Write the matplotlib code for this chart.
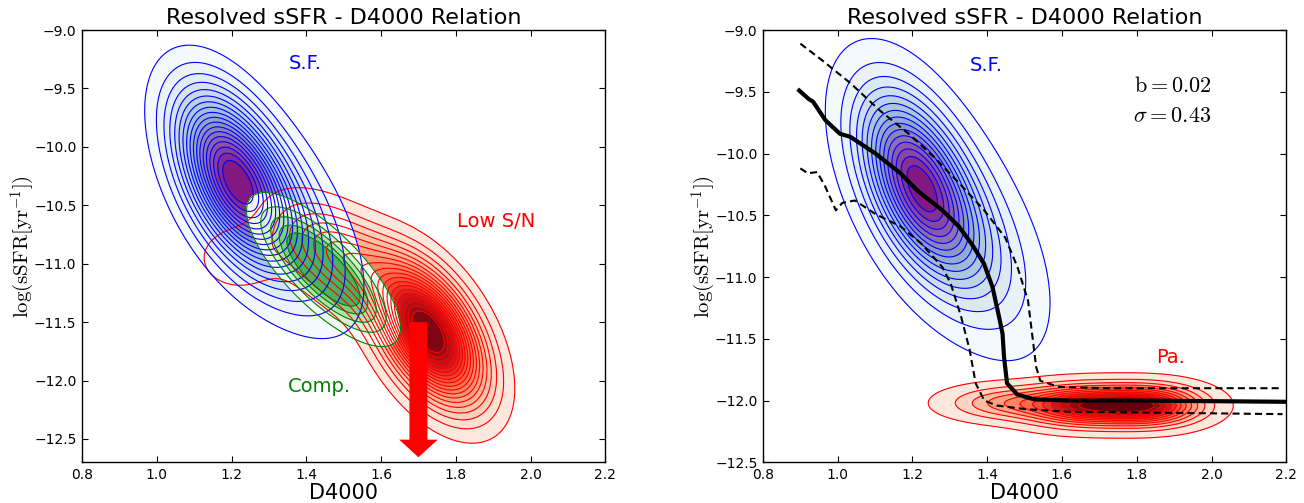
import numpy as np
import matplotlib
matplotlib.use('Agg')
import matplotlib.pyplot as plt

# density components: (amplitude, x0, y0, sigma_x, sigma_y, rho)
sf_left = [(1.00, 1.20, -10.25, 0.095, 0.46, -0.50),
           (0.45, 1.30, -10.55, 0.130, 0.55, -0.60)]
lowsn_left = [(1.00, 1.73, -11.60, 0.090, 0.37, -0.50),
              (0.30, 1.50, -10.95, 0.110, 0.30, -0.55),
              (0.08, 1.22, -10.95, 0.080, 0.20, 0.00)]
comp_left = [(1.00, 1.446, -11.05, 0.100, 0.32, -0.76)]

sf_right = [(1.00, 1.21, -10.23, 0.095, 0.46, -0.50),
            (0.45, 1.30, -10.53, 0.130, 0.55, -0.60)]
pa_right = [(1.00, 1.66, -12.04, 0.100, 0.100, 0.00),
            (1.00, 1.83, -12.04, 0.090, 0.100, 0.00),
            (0.35, 1.45, -12.02, 0.100, 0.085, 0.00)]

# median relation and 1-sigma envelope
med_x = [0.897, 0.923, 0.934, 0.967, 1.006, 1.034, 1.101, 1.168, 1.213, 1.280,
         1.324, 1.358, 1.391, 1.414, 1.430, 1.441, 1.445, 1.453, 1.480, 1.525,
         1.614, 1.800, 2.000, 2.200]
med_y = [-9.49, -9.56, -9.58, -9.73, -9.84, -9.865, -10.00, -10.16, -10.30, -10.46,
         -10.59, -10.73, -10.89, -11.08, -11.30, -11.46, -11.65, -11.86, -11.95, -11.99,
         -12.00, -12.00, -12.005, -12.01]
up_x = [0.900, 0.956, 1.034, 1.112, 1.190, 1.258, 1.325, 1.392, 1.448, 1.481,
        1.509, 1.520, 1.531, 1.542, 1.592, 1.727, 2.180]
up_y = [-9.11, -9.24, -9.43, -9.65, -9.84, -10.03, -10.24, -10.46, -10.68, -10.92,
        -11.19, -11.46, -11.73, -11.84, -11.89, -11.90, -11.90]
lo_x = [0.900, 0.920, 0.945, 0.967, 0.995, 1.012, 1.046, 1.101, 1.168, 1.224,
        1.280, 1.302, 1.330, 1.353, 1.369, 1.392, 1.425, 1.503, 1.615, 2.190]
lo_y = [-10.12, -10.16, -10.15, -10.27, -10.46, -10.40, -10.38, -10.49, -10.59, -10.73,
        -10.92, -11.05, -11.32, -11.59, -11.86, -12.00, -12.04, -12.07, -12.09, -12.11]

fit_b = 0.02
fit_sigma = 0.43

xx = np.linspace(0.8, 2.2, 320)
yy = np.linspace(-12.7, -9.0, 320)
X, Y = np.meshgrid(xx, yy)


def density(comps):
    Z = np.zeros_like(X)
    for a, x0, y0, sx, sy, r in comps:
        u = (X - x0) / sx
        v = (Y - y0) / sy
        Z += a * np.exp(-(u * u - 2 * r * u * v + v * v) / (2 * (1 - r * r)))
    return Z / Z.max()


def fill(ax, comps, n, lo, hi, cmap, c0, c1):
    Z = density(comps)
    lv = np.linspace(lo, hi, n)
    cols = plt.get_cmap(cmap)(np.linspace(c0, c1, n))
    ax.contourf(X, Y, Z, levels=np.append(lv, 1.01), colors=cols)
    return Z, lv


def lines(ax, Z, lv, color):
    ax.contour(X, Y, Z, levels=lv, colors=color, linewidths=0.8)


def style(ax, ylo):
    ax.set_xlim(0.8, 2.2)
    ax.set_ylim(ylo, -9.0)
    ax.set_xticks(np.arange(0.8, 2.21, 0.2))
    ax.set_yticks(np.arange(-12.5, -8.99, 0.5))
    ax.tick_params(direction='in', top=True, right=True, length=4, width=0.8,
                   labelsize=10, pad=4)
    ax.set_title('Resolved sSFR - D4000 Relation', fontsize=16, pad=4)
    ax.set_xlabel('D4000', fontsize=15, labelpad=1)
    ax.set_ylabel(r'$\log(\mathrm{sSFR}[\mathrm{yr}^{-1}])$', fontsize=15,
                  labelpad=-2)
    for s in ax.spines.values():
        s.set_linewidth(1.0)


plt.rcParams['mathtext.fontset'] = 'cm'

fig = plt.figure(figsize=(13.04, 5.03), dpi=100)
ax1 = fig.add_axes([0.0629, 0.0809, 0.4013, 0.8594])
ax2 = fig.add_axes([0.5851, 0.0809, 0.4013, 0.8594])

# left: star forming, low S/N and composite spaxels
Zr, lr = fill(ax1, lowsn_left, 19, 0.04, 0.90, 'Reds', 0.08, 0.95)
Zb, lb = fill(ax1, sf_left, 18, 0.05, 0.93, 'BuPu', 0.02, 0.85)
Zg, lg = fill(ax1, comp_left, 5, 0.12, 0.62, 'Greens', 0.02, 0.6)
lines(ax1, Zr, lr, 'red')
lines(ax1, Zb, lb, 'blue')
lines(ax1, Zg, lg, 'green')
ax1.arrow(1.70, -11.50, 0, -1.157, width=0.048, head_width=0.103,
          head_length=0.151, length_includes_head=True, fc='red', ec='none',
          zorder=5)
ax1.text(1.352, -9.29, 'S.F.', color='blue', fontsize=14, va='center')
ax1.text(1.803, -10.64, 'Low S/N', color='red', fontsize=14, va='center')
ax1.text(1.352, -12.05, 'Comp.', color='green', fontsize=14, va='center')
style(ax1, -12.7)

# right: star forming and passive spaxels with the median relation
Zb2, lb2 = fill(ax2, sf_right, 15, 0.04, 0.93, 'BuPu', 0.02, 0.85)
Zp, lp = fill(ax2, pa_right, 12, 0.03, 0.86, 'Reds', 0.08, 1.0)
lines(ax2, Zb2, lb2, 'blue')
lines(ax2, Zp, lp, 'red')
ax2.plot(med_x, med_y, color='black', lw=3, zorder=6)
ax2.plot(up_x, up_y, color='black', lw=1.5, ls='--', dashes=(3.4, 2), zorder=6)
ax2.plot(lo_x, lo_y, color='black', lw=1.5, ls='--', dashes=(3.4, 2), zorder=6)
ax2.text(1.352, -9.29, 'S.F.', color='blue', fontsize=14, va='center')
ax2.text(1.852, -11.65, 'Pa.', color='red', fontsize=14, va='center')
ax2.text(2.0, -9.45, r'$\mathrm{b} = %.2f$' % fit_b, fontsize=16, ha='right', va='center')
ax2.text(2.0, -9.70, r'$\sigma = %.2f$' % fit_sigma, fontsize=16, ha='right', va='center')
style(ax2, -12.5)

fig.savefig('out.png', dpi=100)
